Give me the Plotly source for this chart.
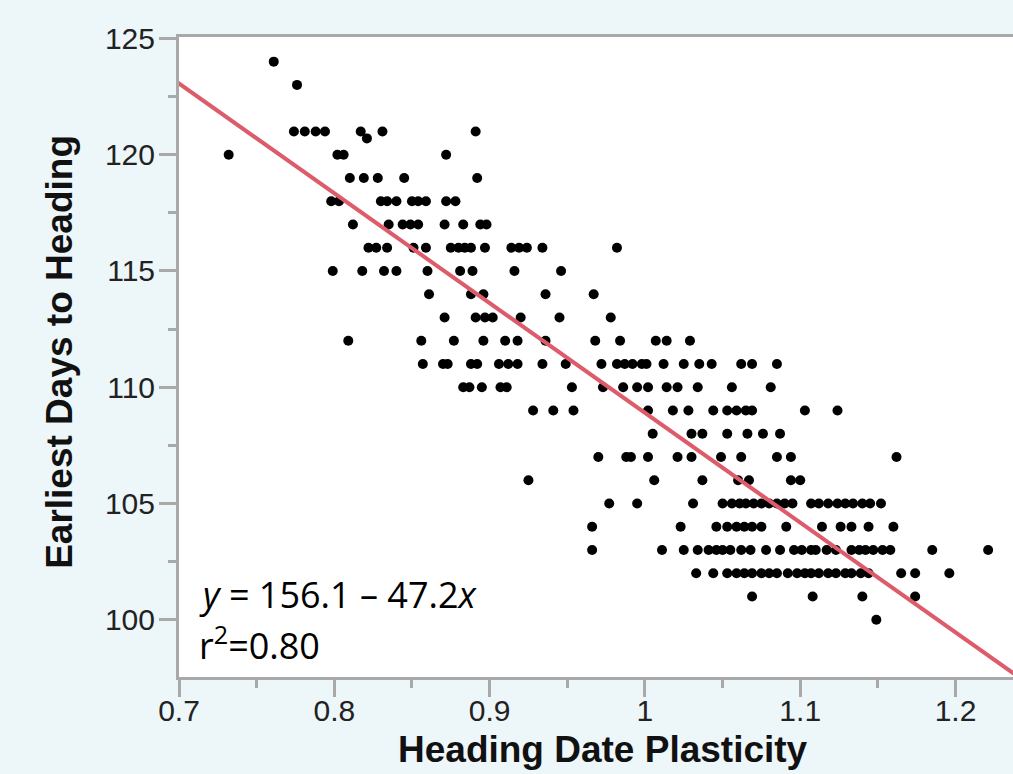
import plotly.graph_objects as go

# ---- data: heading date plasticity values grouped by earliest days to heading ----
days_124 = [0.761]
days_123 = [0.776]
days_121 = [0.774, 0.781, 0.788, 0.794, 0.817, 0.831, 0.891]
days_120_7 = [0.821]
days_120 = [0.732, 0.802, 0.806, 0.872]
days_119 = [0.810, 0.819, 0.828, 0.845, 0.892]
days_118 = [0.798, 0.803, 0.830, 0.834, 0.840, 0.850, 0.854, 0.859, 0.872, 0.878]
days_117 = [0.812, 0.835, 0.844, 0.849, 0.854, 0.871, 0.883, 0.894, 0.898]
days_116 = [0.822, 0.827, 0.834, 0.851, 0.859, 0.875, 0.880, 0.884, 0.888, 0.897,
            0.914, 0.919, 0.924, 0.934, 0.982]
days_115 = [0.799, 0.818, 0.832, 0.840, 0.860, 0.881, 0.889, 0.916, 0.946]
days_114 = [0.861, 0.888, 0.896, 0.936, 0.967]
days_113 = [0.871, 0.891, 0.897, 0.902, 0.920, 0.945, 0.978]
days_112 = [0.809, 0.856, 0.877, 0.896, 0.910, 0.918, 0.936, 0.968, 0.984, 1.007,
            1.014, 1.029]
days_111 = [0.857, 0.870, 0.873, 0.888, 0.892, 0.906, 0.912, 0.918, 0.934, 0.949,
            0.972, 0.982, 0.987, 0.992, 0.998, 1.001, 1.012, 1.025, 1.035, 1.043,
            1.062, 1.069, 1.085]
days_110 = [0.883, 0.887, 0.895, 0.907, 0.911, 0.953, 0.973, 0.986, 0.995, 1.002,
            1.014, 1.021, 1.034, 1.056, 1.081]
days_109 = [0.928, 0.941, 0.954, 1.002, 1.018, 1.028, 1.044, 1.053, 1.059, 1.065,
            1.069, 1.103, 1.124]
days_108 = [1.005, 1.030, 1.037, 1.053, 1.066, 1.076, 1.087]
days_107 = [0.970, 0.988, 0.991, 1.002, 1.021, 1.030, 1.049, 1.062, 1.085, 1.094, 1.162]
days_106 = [0.925, 1.006, 1.037, 1.060, 1.067, 1.094, 1.100]
days_105 = [0.977, 0.995, 1.031, 1.050, 1.056, 1.061, 1.065, 1.070, 1.075, 1.080,
            1.085, 1.090, 1.095, 1.107, 1.112, 1.118, 1.124, 1.129, 1.134, 1.140,
            1.145, 1.152]
days_104 = [0.966, 1.023, 1.046, 1.053, 1.059, 1.064, 1.069, 1.075, 1.091, 1.114,
            1.126, 1.133, 1.144, 1.160]
days_103 = [0.966, 1.011, 1.025, 1.034, 1.041, 1.046, 1.050, 1.055, 1.062, 1.068,
            1.078, 1.087, 1.096, 1.101, 1.107, 1.110, 1.117, 1.123, 1.133, 1.138,
            1.142, 1.147, 1.153, 1.158, 1.185, 1.221]
days_102 = [1.033, 1.044, 1.053, 1.059, 1.064, 1.069, 1.075, 1.080, 1.085, 1.092,
            1.098, 1.103, 1.107, 1.112, 1.118, 1.123, 1.129, 1.133, 1.139, 1.144,
            1.165, 1.174, 1.196]
days_101 = [1.069, 1.108, 1.140, 1.174]
days_100 = [1.149]

row_days = [124, 123, 121, 120.7, 120, 119, 118, 117, 116, 115, 114, 113, 112,
            111, 110, 109, 108, 107, 106, 105, 104, 103, 102, 101, 100]
row_values = [days_124, days_123, days_121, days_120_7, days_120, days_119, days_118,
              days_117, days_116, days_115, days_114, days_113, days_112, days_111,
              days_110, days_109, days_108, days_107, days_106, days_105, days_104,
              days_103, days_102, days_101, days_100]

fit_intercept = 156.1
fit_slope = -47.2
r_squared = "0.80"

x_ticks = [0.7, 0.8, 0.9, 1.0, 1.1, 1.2]
x_tick_text = ["0.7", "0.8", "0.9", "1", "1.1", "1.2"]
y_ticks = [100, 105, 110, 115, 120, 125]

X_RANGE = [0.7, 1.237]
Y_RANGE = [97.54, 125.06]

# ---- build figure ----
xs, ys = [], []
for d, vals in zip(row_days, row_values):
    xs.extend(vals)
    ys.extend([d] * len(vals))

fig = go.Figure()
fig.add_trace(go.Scatter(
    x=xs, y=ys, mode="markers",
    marker=dict(color="black", size=10, line=dict(width=0)),
    hoverinfo="x+y", showlegend=False,
))
fit_x = [X_RANGE[0] - 0.01, X_RANGE[1] + 0.01]
fig.add_trace(go.Scatter(
    x=fit_x, y=[fit_intercept + fit_slope * v for v in fit_x],
    mode="lines", line=dict(color="#dd5c6b", width=4),
    showlegend=False, hoverinfo="skip",
))

axis_grey = "#a9a9a9"
tick_font = dict(family="Liberation Sans, Arial, sans-serif", size=30, color="#222222")

fig.update_xaxes(
    range=X_RANGE, tickvals=x_ticks, ticktext=x_tick_text,
    ticks="outside", ticklen=17, tickwidth=3, tickcolor=axis_grey,
    showline=True, linecolor=axis_grey, linewidth=3, mirror=True,
    showgrid=False, zeroline=False, tickfont=tick_font, ticklabelstandoff=-12,
    minor=dict(tickvals=[0.75, 0.85, 0.95, 1.05, 1.15], ticks="outside",
               ticklen=8, tickwidth=3, tickcolor=axis_grey, showgrid=False),
)
fig.update_yaxes(
    range=Y_RANGE, tickvals=y_ticks,
    ticks="outside", ticklen=17, tickwidth=3, tickcolor=axis_grey,
    showline=True, linecolor=axis_grey, linewidth=3,
    showgrid=False, zeroline=False, tickfont=tick_font, ticklabelstandoff=-2,
    minor=dict(tickvals=[102.5, 107.5, 112.5, 117.5, 122.5], ticks="outside",
               ticklen=8, tickwidth=3, tickcolor=axis_grey, showgrid=False),
)

title_font = dict(family="Liberation Sans, Arial, sans-serif", size=37, color="#111111")
eq_font = dict(family="Open Sans, sans-serif", size=36, color="black")

fig.update_layout(
    width=1013, height=774,
    margin=dict(l=179, r=0, t=37, b=97, pad=0),
    paper_bgcolor="#edf6f9", plot_bgcolor="white",
    annotations=[
        dict(text="<b>Heading Date Plasticity</b>", xref="paper", yref="paper",
             x=0.508, y=-0.113, xanchor="center", yanchor="middle",
             showarrow=False, font=title_font),
        dict(text="<b>Earliest Days to Heading</b>", xref="paper", yref="paper",
             x=-0.1427, y=0.508, xanchor="center", yanchor="middle",
             textangle=-90, showarrow=False, font=title_font),
        dict(text="<i>y</i> = %.1f – %.1f<i>x</i>" % (fit_intercept, -fit_slope),
             xref="x", yref="y", x=0.7115, y=101.08, xanchor="left", yanchor="middle",
             showarrow=False, font=eq_font),
        dict(text="r<sup>2</sup>=%s" % r_squared,
             xref="x", yref="y", x=0.7115, y=98.97, xanchor="left", yanchor="middle",
             showarrow=False, font=eq_font),
    ],
)

fig.write_html(
    "out.html",
    config={"displayModeBar": False},
    post_script="document.body.style.margin='0';document.body.style.overflow='hidden';",
)
